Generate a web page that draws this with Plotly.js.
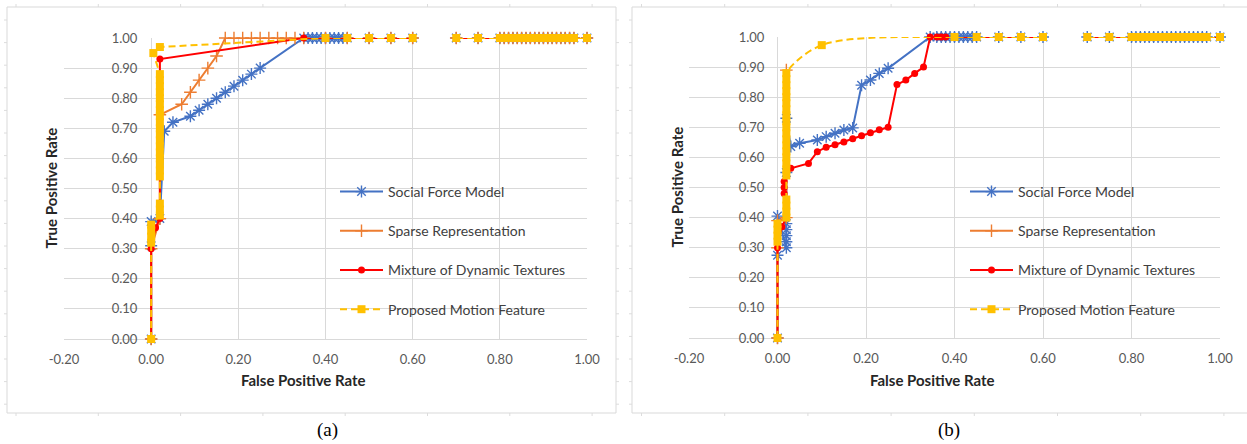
<!DOCTYPE html>
<html><head><meta charset="utf-8">
<script src="https://cdn.plot.ly/plotly-3.0.1.min.js"></script>
<style>html,body{margin:0;padding:0;background:#fff;}#chart{width:1247px;height:444px;}</style>
</head><body><div id="chart"></div>
<script>
// ---------- data ----------
const seriesNames = ["Social Force Model", "Sparse Representation", "Mixture of Dynamic Textures", "Proposed Motion Feature"];
const xTickVals = [-0.2, 0.0, 0.2, 0.4, 0.6, 0.8, 1.0];
const xTickText = ["-0.20", "0.00", "0.20", "0.40", "0.60", "0.80", "1.00"];
const yTickVals = [0.0, 0.1, 0.2, 0.3, 0.4, 0.5, 0.6, 0.7, 0.8, 0.9, 1.0];

// common plateau at TPR = 1 (with the visible gap between 0.60 and 0.70)
const plateauFPR = [0.45, 0.50, 0.55, 0.60, null, 0.70, 0.75, 0.80, 0.81, 0.82, 0.83, 0.84, 0.85, 0.86, 0.87, 0.88, 0.89, 0.90, 0.91, 0.92, 0.93, 0.94, 0.95, 0.96, 0.97, 1.00];
const plateauTPR = [1.00, 1.00, 1.00, 1.00, null, 1.00, 1.00, 1.00, 1.00, 1.00, 1.00, 1.00, 1.00, 1.00, 1.00, 1.00, 1.00, 1.00, 1.00, 1.00, 1.00, 1.00, 1.00, 1.00, 1.00, 1.00];

// panel (a)
const socialFprA = [0.00, 0.00, 0.00, 0.02, 0.03, 0.05, 0.09, 0.11, 0.13, 0.15, 0.17, 0.19, 0.21, 0.23, 0.25, 0.35, 0.36, 0.37, 0.38, 0.39, 0.40, 0.41, 0.42, 0.43, 0.44];
const socialTprA = [0.00, 0.31, 0.39, 0.40, 0.69, 0.72, 0.74, 0.76, 0.78, 0.80, 0.82, 0.84, 0.86, 0.88, 0.90, 1.00, 1.00, 1.00, 1.00, 1.00, 1.00, 1.00, 1.00, 1.00, 1.00];
const sparseFprA = [0.00, 0.00, 0.02, 0.02, 0.07, 0.09, 0.11, 0.13, 0.15, 0.17, 0.19, 0.21, 0.23, 0.25, 0.27, 0.29, 0.31, 0.33, 0.35, 0.40];
const sparseTprA = [0.00, 0.30, 0.40, 0.745, 0.78, 0.82, 0.86, 0.90, 0.94, 1.00, 1.00, 1.00, 1.00, 1.00, 1.00, 1.00, 1.00, 1.00, 1.00, 1.00];
const mixtureFprA = [0.00, 0.00, 0.01, 0.02, 0.02, 0.35, 0.40];
const mixtureTprA = [0.00, 0.30, 0.37, 0.40, 0.93, 1.00, 1.00];
const proposedFprA = [0.00, 0.00, 0.00, 0.00, 0.00, 0.02, 0.02, 0.02, 0.02, 0.02, 0.02, 0.02, 0.02, 0.02, 0.02, 0.02, 0.02, 0.02, 0.02, 0.02, 0.02, 0.02, 0.02, 0.02, 0.02, 0.02, 0.005, 0.02, 0.40];
const proposedTprA = [0.00, 0.32, 0.34, 0.36, 0.38, 0.41, 0.43, 0.45, 0.54, 0.56, 0.58, 0.60, 0.62, 0.64, 0.66, 0.68, 0.70, 0.72, 0.74, 0.76, 0.78, 0.80, 0.82, 0.84, 0.86, 0.88, 0.95, 0.97, 1.00];

// panel (b)
const socialFprB = [0.00, 0.00, 0.00, 0.02, 0.02, 0.02, 0.02, 0.02, 0.02, 0.02, 0.03, 0.05, 0.09, 0.11, 0.13, 0.15, 0.17, 0.19, 0.21, 0.23, 0.25, 0.345, 0.36, 0.37, 0.38, 0.39, 0.40, 0.41, 0.42, 0.43, 0.44];
const socialTprB = [0.00, 0.275, 0.405, 0.30, 0.32, 0.34, 0.36, 0.38, 0.55, 0.73, 0.636, 0.647, 0.658, 0.669, 0.680, 0.691, 0.698, 0.840, 0.857, 0.879, 0.896, 1.00, 1.00, 1.00, 1.00, 1.00, 1.00, 1.00, 1.00, 1.00, 1.00];
const sparseFprB = [0.00, 0.00, 0.00, 0.02, 0.02];
const sparseTprB = [0.00, 0.30, 0.39, 0.40, 0.89];
const mixtureFprB = [0.00, 0.00, 0.01, 0.02, 0.015, 0.015, 0.015, 0.03, 0.07, 0.09, 0.11, 0.13, 0.15, 0.17, 0.19, 0.21, 0.23, 0.25, 0.27, 0.29, 0.31, 0.33, 0.345, 0.36, 0.37, 0.38, 0.40];
const mixtureTprB = [0.00, 0.30, 0.37, 0.40, 0.48, 0.50, 0.52, 0.564, 0.580, 0.619, 0.634, 0.642, 0.651, 0.662, 0.672, 0.682, 0.692, 0.700, 0.842, 0.857, 0.879, 0.900, 1.00, 1.00, 1.00, 1.00, 1.00];
const proposedFprB = [0.00, 0.00, 0.00, 0.00, 0.00, 0.02, 0.02, 0.02, 0.02, 0.02, 0.02, 0.02, 0.02, 0.02, 0.02, 0.02, 0.02, 0.02, 0.02, 0.02, 0.02, 0.02, 0.02, 0.02, 0.02, 0.02, 0.02, 0.10, 0.40];
const proposedTprB = [0.00, 0.32, 0.34, 0.36, 0.38, 0.40, 0.42, 0.44, 0.46, 0.54, 0.56, 0.58, 0.60, 0.62, 0.64, 0.66, 0.68, 0.70, 0.72, 0.74, 0.76, 0.78, 0.80, 0.82, 0.84, 0.86, 0.88, 0.973, 1.00];

// ---------- styling ----------
const W = 1247, H = 444;
const FONT = "Lato, 'Open Sans', sans-serif";
const styles = [
  {color: "#4472C4", marker: {symbol: "asterisk-open", size: 10, line: {width: 1.4, color: "#4472C4"}}, dash: "solid"},
  {color: "#ED7D31", marker: {symbol: "cross-thin-open", size: 9, line: {width: 1.4, color: "#ED7D31"}}, dash: "solid"},
  {color: "#FF0000", marker: {symbol: "circle", size: 7, color: "#FF0000"}, dash: "solid"},
  {color: "#FFC000", marker: {symbol: "square", size: 8, color: "#FFC000"}, dash: "7px,4px"}
];

function mk(i, xs, ys, panel, shape) {
  const s = styles[i];
  const useTail = !(panel === "b" && i === 1);
  const m = Object.assign({}, s.marker);
  if (!m.color) m.color = s.color;
  return {
    type: "scatter", mode: "lines+markers",
    x: useTail ? xs.concat(plateauFPR) : xs, y: useTail ? ys.concat(plateauTPR) : ys,
    name: seriesNames[i],
    xaxis: panel === "a" ? "x" : "x2", yaxis: panel === "a" ? "y" : "y2",
    legend: panel === "a" ? "legend" : "legend2",
    legendgroup: panel + i,
    line: {color: s.color, width: 2, dash: s.dash, shape: shape || "linear", smoothing: 1},
    marker: m, cliponaxis: false, hoverinfo: "skip"
  };
}

const traces = [
  mk(0, socialFprA, socialTprA, "a"),
  mk(1, sparseFprA, sparseTprA, "a"),
  mk(2, mixtureFprA, mixtureTprA, "a"),
  mk(3, proposedFprA, proposedTprA, "a"),
  mk(0, socialFprB, socialTprB, "b"),
  mk(1, sparseFprB, sparseTprB, "b"),
  mk(2, mixtureFprB, mixtureTprB, "b"),
  mk(3, proposedFprB, proposedTprB, "b", "spline")
];

const px = v => v / W;
const py = v => 1 - v / H;

function xAx(l, r, anchor) {
  return {
    domain: [px(l), px(r)], range: [-0.2, 1.0], anchor: anchor,
    tickmode: "array", tickvals: xTickVals, ticktext: xTickText,
    showgrid: true, gridcolor: "#d9d9d9", gridwidth: 1,
    zeroline: true, zerolinecolor: "#d9d9d9", zerolinewidth: 1,
    showline: false, ticks: "outside", ticklen: 8, tickcolor: "rgba(0,0,0,0)",
    tickfont: {family: FONT, size: 13, color: "#595959"}, fixedrange: true
  };
}
// the value axis crosses the category axis at FPR = 0, so its labels sit there
function yAx(t, b, zeroPx) {
  return {
    domain: [py(b), py(t)], range: [0, 1.0], anchor: "free", position: px(zeroPx),
    tickvals: yTickVals, tickformat: ".2f",
    showgrid: true, gridcolor: "#d9d9d9", gridwidth: 1,
    zeroline: true, zerolinecolor: "#d9d9d9", zerolinewidth: 1,
    showline: false, ticks: "outside", ticklen: 10, tickcolor: "rgba(0,0,0,0)",
    tickfont: {family: FONT, size: 13, color: "#595959"}, fixedrange: true
  };
}

// decorative frames around each chart, with the faint ruler marks
const shapes = [];
function frame(l, t, r, b, topXs, sideYs) {
  shapes.push({type: "rect", xref: "paper", yref: "paper", x0: px(l), x1: px(r), y0: py(b), y1: py(t),
    line: {color: "#d9d9d9", width: 1}, fillcolor: "rgba(0,0,0,0)", layer: "below"});
  topXs.forEach(x => {
    shapes.push({type: "line", xref: "paper", yref: "paper", x0: px(x), x1: px(x), y0: py(t - 3), y1: py(t), line: {color: "#dcdcdc", width: 1}});
    shapes.push({type: "line", xref: "paper", yref: "paper", x0: px(x), x1: px(x), y0: py(b), y1: py(b + 3), line: {color: "#dcdcdc", width: 1}});
  });
  sideYs.forEach(y => {
    shapes.push({type: "line", xref: "paper", yref: "paper", x0: px(l - 3), x1: px(l), y0: py(y), y1: py(y), line: {color: "#dcdcdc", width: 1}});
    shapes.push({type: "line", xref: "paper", yref: "paper", x0: px(r), x1: px(r + 3), y0: py(y), y1: py(y), line: {color: "#dcdcdc", width: 1}});
  });
}
const rulerA = [], rulerB = [], sideMarks = [];
for (let k = 0; k < 8; k++) { rulerA.push(16 + k * 82.3); rulerB.push(641.5 + k * 83.2); }
for (let k = 0; k < 18; k++) sideMarks.push(20 + k * 22.6);
frame(7, 7, 616, 413, rulerA, sideMarks);
frame(632, 7, 1249, 413, rulerB, sideMarks);

const titleFont = {family: FONT, size: 15, color: "#262626", weight: "bold"};
const capFont = {family: "'Liberation Serif', 'Times New Roman', serif", size: 19, color: "#000"};
const annotations = [
  {text: "False Positive Rate", x: px(303), y: py(380), xref: "paper", yref: "paper", showarrow: false, font: titleFont, xanchor: "center", yanchor: "middle"},
  {text: "True Positive Rate", x: px(51), y: py(188.5), xref: "paper", yref: "paper", showarrow: false, font: titleFont, textangle: -90, xanchor: "center", yanchor: "middle"},
  {text: "False Positive Rate", x: px(932), y: py(380), xref: "paper", yref: "paper", showarrow: false, font: titleFont, xanchor: "center", yanchor: "middle"},
  {text: "True Positive Rate", x: px(676), y: py(187.5), xref: "paper", yref: "paper", showarrow: false, font: titleFont, textangle: -90, xanchor: "center", yanchor: "middle"},
  {text: "(a)", x: px(327), y: py(430), xref: "paper", yref: "paper", showarrow: false, font: capFont, xanchor: "center", yanchor: "middle"},
  {text: "(b)", x: px(949), y: py(430), xref: "paper", yref: "paper", showarrow: false, font: capFont, xanchor: "center", yanchor: "middle"}
];

function leg(xLeft) {
  return {
    x: px(xLeft), xanchor: "left", y: py(176), yanchor: "top",
    bgcolor: "rgba(0,0,0,0)", borderwidth: 0,
    font: {family: FONT, size: 14, color: "#404040"},
    tracegroupgap: 18, traceorder: "grouped", itemwidth: 43, itemclick: false, itemdoubleclick: false
  };
}

const layout = {
  width: W, height: H, margin: {l: 0, r: 0, t: 0, b: 0},
  paper_bgcolor: "#ffffff", plot_bgcolor: "#ffffff",
  font: {family: FONT, color: "#595959"},
  xaxis: xAx(64, 587, "y"), yaxis: yAx(38, 339, 150),
  xaxis2: xAx(689, 1220, "y2"), yaxis2: yAx(37, 338, 777),
  legend: leg(335), legend2: leg(965),
  shapes: shapes, annotations: annotations, showlegend: true
};

Plotly.newPlot("chart", traces, layout, {displayModeBar: false, staticPlot: true});
</script></body></html>
